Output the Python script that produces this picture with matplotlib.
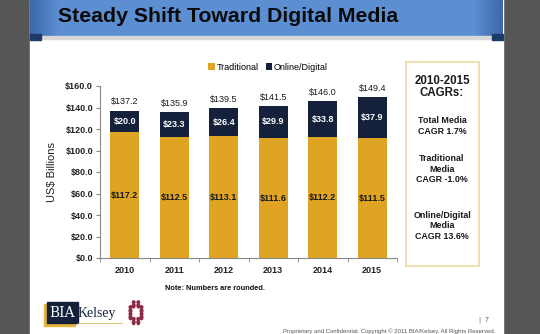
import numpy as np
import matplotlib
matplotlib.use("Agg")
import matplotlib.pyplot as plt
from matplotlib.patches import Rectangle, Circle, Ellipse

plt.rcParams["font.family"] = ["Liberation Sans", "DejaVu Sans"]

years = ["2010", "2011", "2012", "2013", "2014", "2015"]
traditional = [117.2, 112.5, 113.1, 111.6, 112.2, 111.5]
digital = [20.0, 23.3, 26.4, 29.9, 33.8, 37.9]
totals = [137.2, 135.9, 139.5, 141.5, 146.0, 149.4]
cagr_notes = ["Total Media\nCAGR 1.7%",
              "Traditional\nMedia\nCAGR -1.0%",
              "Online/Digital\nMedia\nCAGR 13.6%"]

GOLD = "#E0A424"
NAVY = "#15213B"
W, H = 540, 334

fig = plt.figure(figsize=(W / 100, H / 100), dpi=100)
fig.patch.set_facecolor("#565656")

# background layer in pixel coordinates
bg = fig.add_axes([0, 0, 1, 1], zorder=0)
bg.set_xlim(0, W)
bg.set_ylim(H, 0)
bg.axis("off")

bg.add_patch(Rectangle((30, 0), 473, H, color="white"))
# title bar, a little darker towards both ends
u = np.linspace(0, 1, 400)
grad = np.clip(np.minimum(u, 1 - u) / 0.06, 0, 1)
cmap = matplotlib.colors.LinearSegmentedColormap.from_list("b", ["#3D68AA", "#5C8FD2"])
bg.imshow(grad[None, :], extent=(30, 503, 36, 0), aspect="auto", cmap=cmap,
          vmin=0, vmax=1, zorder=1)
bg.add_patch(Rectangle((41, 36), 451, 2.5, color="#D8D8D8", zorder=1))
bg.add_patch(Rectangle((30, 34), 11, 6, color="#1E3A66", zorder=2))
bg.add_patch(Rectangle((492, 34), 11, 6, color="#1E3A66", zorder=2))
bg.text(58, 16, "Steady Shift Toward Digital Media", fontsize=15.3,
        fontweight="heavy", color="#0A0A0A", va="center", ha="left", zorder=3)

# CAGR box
bg.add_patch(Rectangle((406, 62), 73, 204, fill=False, ec="#EDD9A3", lw=1.2))
bg.text(442, 87, "2010-2015\nCAGRs:", fontsize=8.3, fontweight="bold",
        ha="center", va="center", color="#1A1A1A", linespacing=1.1)
for note, yy in zip(cagr_notes, [126, 169, 226]):
    bg.text(442, yy, note, fontsize=6.4, fontweight="bold", ha="center",
            va="center", color="#1A1A1A", linespacing=1.25)

bg.text(215, 289, "Note: Numbers are rounded.", fontsize=5.3,
        fontweight="bold", ha="center", va="center", color="#111111")
bg.text(283, 331, "Proprietary and Confidential. Copyright \u00a9 2011 BIA/Kelsey. All Rights Reserved.",
        fontsize=4.3, ha="left", va="center", color="#555555")
bg.text(479, 320, "|", fontsize=6, ha="center", va="center", color="#777777")
bg.text(487, 320, "7", fontsize=5, ha="center", va="center", color="#555555")

# logo
bg.add_patch(Rectangle((44, 304), 31, 22, color="#E8B53A", zorder=2))
bg.add_patch(Rectangle((46.5, 302), 31, 21, color=NAVY, zorder=3))
bg.text(62, 313, "BIA", fontsize=10, family="DejaVu Serif", color="white",
        ha="center", va="center", zorder=4)
bg.text(78, 313, "Kelsey", fontsize=10, family="Liberation Serif", color=NAVY,
        ha="left", va="center", zorder=4)
bg.plot([78, 122], [323, 323], color="#D9B55A", lw=0.6, zorder=4)
ang = np.linspace(0, 2 * np.pi, 9)[:-1] + np.pi / 8
for a in ang:
    cx, cy = 136 + 6 * np.cos(a), 314 + 9 * np.sin(a)
    bg.add_patch(Circle((cx, cy - 3.5), 1.3, color="#8E2A44", zorder=3))
    bg.add_patch(Ellipse((cx, cy), 2.6, 4.5, color="#8E2A44", zorder=3))

# chart
ax = fig.add_axes([100 / W, 1 - 258 / H, 297 / W, 172 / H], zorder=2)
ax.patch.set_alpha(0)
x = np.arange(len(years))
bw = 0.59
ax.bar(x, traditional, bw, color=GOLD, label="Traditional")
ax.bar(x, digital, bw, bottom=traditional, color=NAVY, label="Online/Digital")

for i in range(len(years)):
    ax.text(x[i], traditional[i] / 2, f"${traditional[i]:.1f}", ha="center",
            va="center", fontsize=6.5, fontweight="bold", color="#1A1A1A")
    ax.text(x[i], traditional[i] + digital[i] / 2, f"${digital[i]:.1f}",
            ha="center", va="center", fontsize=6.5, fontweight="bold", color="white")
    ax.text(x[i], traditional[i] + digital[i] + 4, f"${totals[i]:.1f}",
            ha="center", va="bottom", fontsize=6.5, color="#1A1A1A")

ax.set_xlim(-0.5, len(years) - 0.5)
ax.set_ylim(0, 160)
ax.set_yticks(np.arange(0, 161, 20))
ax.set_yticklabels([f"${v:.1f}" for v in np.arange(0, 161, 20)],
                   fontsize=6.5, fontweight="bold", color="#222222")
ax.set_xticks(x)
ax.set_xticklabels(years, fontsize=6.5, fontweight="bold", color="#222222")
ax.set_xticks(np.arange(-0.5, len(years)), minor=True)
ax.tick_params(axis="x", which="major", length=0, pad=6)
ax.tick_params(axis="x", which="minor", length=3, color="#888888")
ax.tick_params(axis="y", length=3, color="#888888", pad=2)
for s in ["top", "right"]:
    ax.spines[s].set_visible(False)
for s in ["left", "bottom"]:
    ax.spines[s].set_color("#888888")
    ax.spines[s].set_linewidth(0.8)
ax.set_ylabel("US$ Billions", fontsize=8, color="#222222", labelpad=6)

fig.legend(loc="center", bbox_to_anchor=(268 / W, 1 - 67 / H), ncol=2,
           frameon=False, fontsize=6.5, handlelength=0.7, handleheight=0.7,
           handletextpad=0.2, columnspacing=0.8)

fig.savefig("out.png", dpi=100, facecolor=fig.get_facecolor())
